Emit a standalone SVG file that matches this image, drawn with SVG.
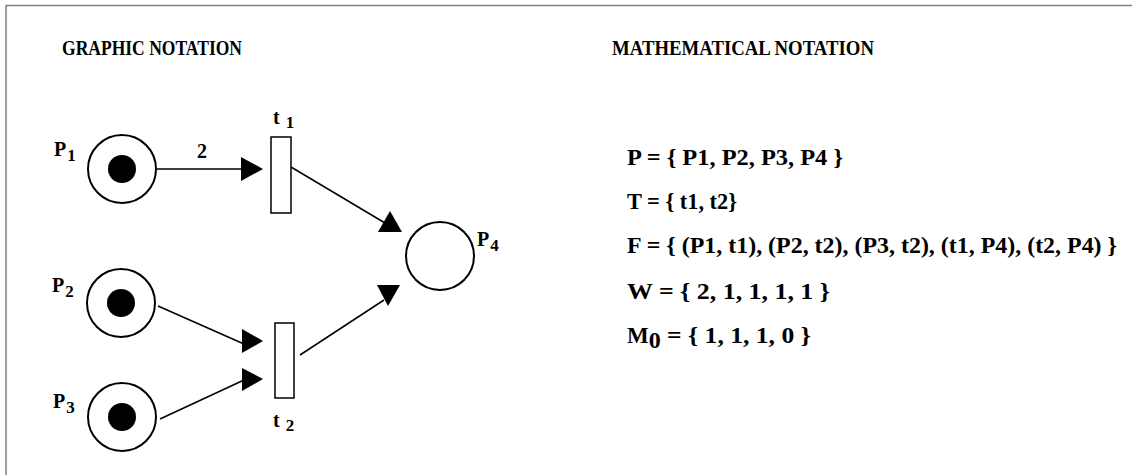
<svg xmlns="http://www.w3.org/2000/svg" width="1132" height="475" viewBox="0 0 1132 475">
<style>
text{font-family:"Liberation Serif","Times New Roman",serif;font-weight:bold;fill:#000}
.h{font-size:20px}
.m{font-size:23px}
.lbl{font-size:20px}
.sub{font-size:17px}
.place{fill:#fff;stroke:#000;stroke-width:2}
.token{fill:#000}
.trans{fill:#fff;stroke:#000;stroke-width:1.5}
.arc{stroke:#000;stroke-width:1.5;fill:none}
.head{fill:#000}
</style>
<rect width="1132" height="475" fill="#fff"/>
<path d="M6,475 V5.5 H1132" fill="none" stroke="#808080" stroke-width="1.5"/>
<text class="h" x="62" y="55" textLength="180" lengthAdjust="spacingAndGlyphs">GRAPHIC NOTATION</text>
<text class="h" x="612" y="55" textLength="262" lengthAdjust="spacingAndGlyphs">MATHEMATICAL NOTATION</text>
<g id="P1"><circle class="place" cx="122" cy="169" r="34"/><circle class="token" cx="122" cy="169" r="14"/><text class="lbl" x="54" y="156">P<tspan class="sub" dx="1" dy="5">1</tspan></text></g>
<g id="P2"><circle class="place" cx="121" cy="303" r="34"/><circle class="token" cx="121" cy="303" r="14"/><text class="lbl" x="52" y="292">P<tspan class="sub" dx="1" dy="5">2</tspan></text></g>
<g id="P3"><circle class="place" cx="122" cy="417" r="34"/><circle class="token" cx="122" cy="417" r="14"/><text class="lbl" x="53" y="408">P<tspan class="sub" dx="1" dy="5">3</tspan></text></g>
<g id="P4"><circle class="place" cx="440" cy="256" r="34"/><text class="lbl" x="477" y="246">P<tspan class="sub" dx="1" dy="5">4</tspan></text></g>
<g id="t1"><rect class="trans" x="271" y="137" width="20" height="76"/><text class="lbl" x="273" y="124">t<tspan class="sub" dx="6" dy="4">1</tspan></text></g>
<g id="t2"><rect class="trans" x="275" y="323" width="19" height="75"/><text class="lbl" x="273" y="427">t<tspan class="sub" dx="6" dy="4">2</tspan></text></g>
<g id="connectors">
<line class="arc" x1="157" y1="169" x2="243" y2="169"/>
<polygon class="head" points="241,157 263,169 241,181"/>
<text class="lbl" x="197" y="158">2</text>
<line class="arc" x1="291" y1="167" x2="385" y2="223"/>
<polygon class="head" points="390,211 402,232 378,232"/>
<line class="arc" x1="158" y1="306" x2="244" y2="344"/>
<polygon class="head" points="242,329 263,341 242,353"/>
<line class="arc" x1="160" y1="419" x2="244" y2="380"/>
<polygon class="head" points="242,368 263,379 242,391"/>
<line class="arc" x1="300" y1="355" x2="384" y2="300"/>
<polygon class="head" points="377,285 400,285 388,306"/>
</g>
<g id="math">
<text class="m" x="627" y="165" textLength="216" lengthAdjust="spacingAndGlyphs">P = { P1, P2, P3, P4 }</text>
<text class="m" x="627" y="209" textLength="110" lengthAdjust="spacingAndGlyphs">T = { t1, t2}</text>
<text class="m" x="627" y="253" textLength="490" lengthAdjust="spacingAndGlyphs">F = { (P1, t1), (P2, t2), (P3, t2), (t1, P4), (t2, P4) }</text>
<text class="m" x="627" y="299" textLength="203" lengthAdjust="spacingAndGlyphs">W = { 2, 1, 1, 1, 1 }</text>
<text class="m" x="627" y="343">M<tspan font-size="24" dy="5">0</tspan><tspan dy="-5" textLength="150" lengthAdjust="spacingAndGlyphs"> = { 1, 1, 1, 0 }</tspan></text>
</g>
</svg>
